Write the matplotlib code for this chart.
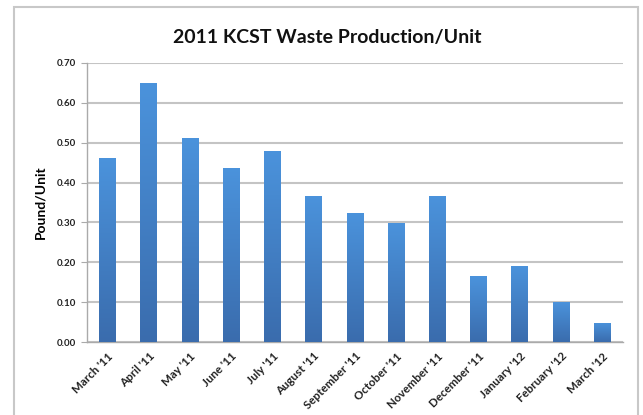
import matplotlib
matplotlib.use("Agg")
import matplotlib.pyplot as plt
import numpy as np
from matplotlib.patches import Rectangle
from matplotlib.colors import LinearSegmentedColormap

months = ["March '11", "April '11", "May '11", "June '11", "July '11", "August '11",
          "September '11", "October '11", "November '11", "December '11",
          "January '12", "February '12", "March '12"]
values = [0.462, 0.648, 0.512, 0.437, 0.479, 0.367, 0.324, 0.299, 0.367,
          0.165, 0.192, 0.101, 0.048]

plt.rcParams['font.family'] = ['Lato', 'DejaVu Sans']

fig = plt.figure(figsize=(6.43, 4.15), dpi=100)
W, H = 643, 415
ax = fig.add_axes([87 / W, 1 - 342.3 / H, (623 - 87) / W, (342.3 - 62.7) / H])

# outer frame
fig.patches.append(Rectangle((14 / W, -0.05), (638 - 14) / W, 1.05 - 7 / H,
                             transform=fig.transFigure, fill=False,
                             edgecolor='#c8c8c8', linewidth=1.5))

x = np.arange(len(months))
bars = ax.bar(x, values, width=0.41, color='#4a8bd2', zorder=3)

cmap = LinearSegmentedColormap.from_list('g', ['#3a6cad', '#4b93dc'])
grad = np.linspace(0, 1, 256).reshape(-1, 1)
for b in bars:
    x0, y0 = b.get_x(), b.get_y()
    w, h = b.get_width(), b.get_height()
    im = ax.imshow(grad, extent=[x0, x0 + w, y0, y0 + h], origin='lower',
                   cmap=cmap, aspect='auto', zorder=4)
    im.set_clip_path(b)

ax.set_xlim(-0.5, len(months) - 0.5)
ax.set_ylim(0, 0.70)
ax.set_yticks(np.arange(0, 0.71, 0.10))
ax.set_yticklabels([f"{v:.2f}" for v in np.arange(0, 0.71, 0.10)],
                   fontsize=7, fontweight='bold', color='#222222')
ax.set_xticks(x)
ax.set_xticklabels(months, rotation=45, ha='right', rotation_mode='anchor',
                   fontsize=8.3, fontweight='bold', color='#222222')
ax.tick_params(axis='x', length=0, pad=6)
ax.tick_params(axis='y', length=4, color='#aaaaaa', pad=4)
ax.grid(axis='y', color='#c4c4c4', linewidth=1.5, zorder=0)
for s in ['top', 'right']:
    ax.spines[s].set_visible(False)
for s in ['left', 'bottom']:
    ax.spines[s].set_color('#aaaaaa')
    ax.spines[s].set_linewidth(1.0)

ax.set_ylabel("Pound/Unit", fontsize=10, fontweight='bold', labelpad=7)
fig.text(327 / W, 1 - 37 / H, "2011 KCST Waste Production/Unit",
         ha='center', va='center', fontsize=14, fontweight='bold', color='#111111')

fig.savefig("out.png", dpi=100)
